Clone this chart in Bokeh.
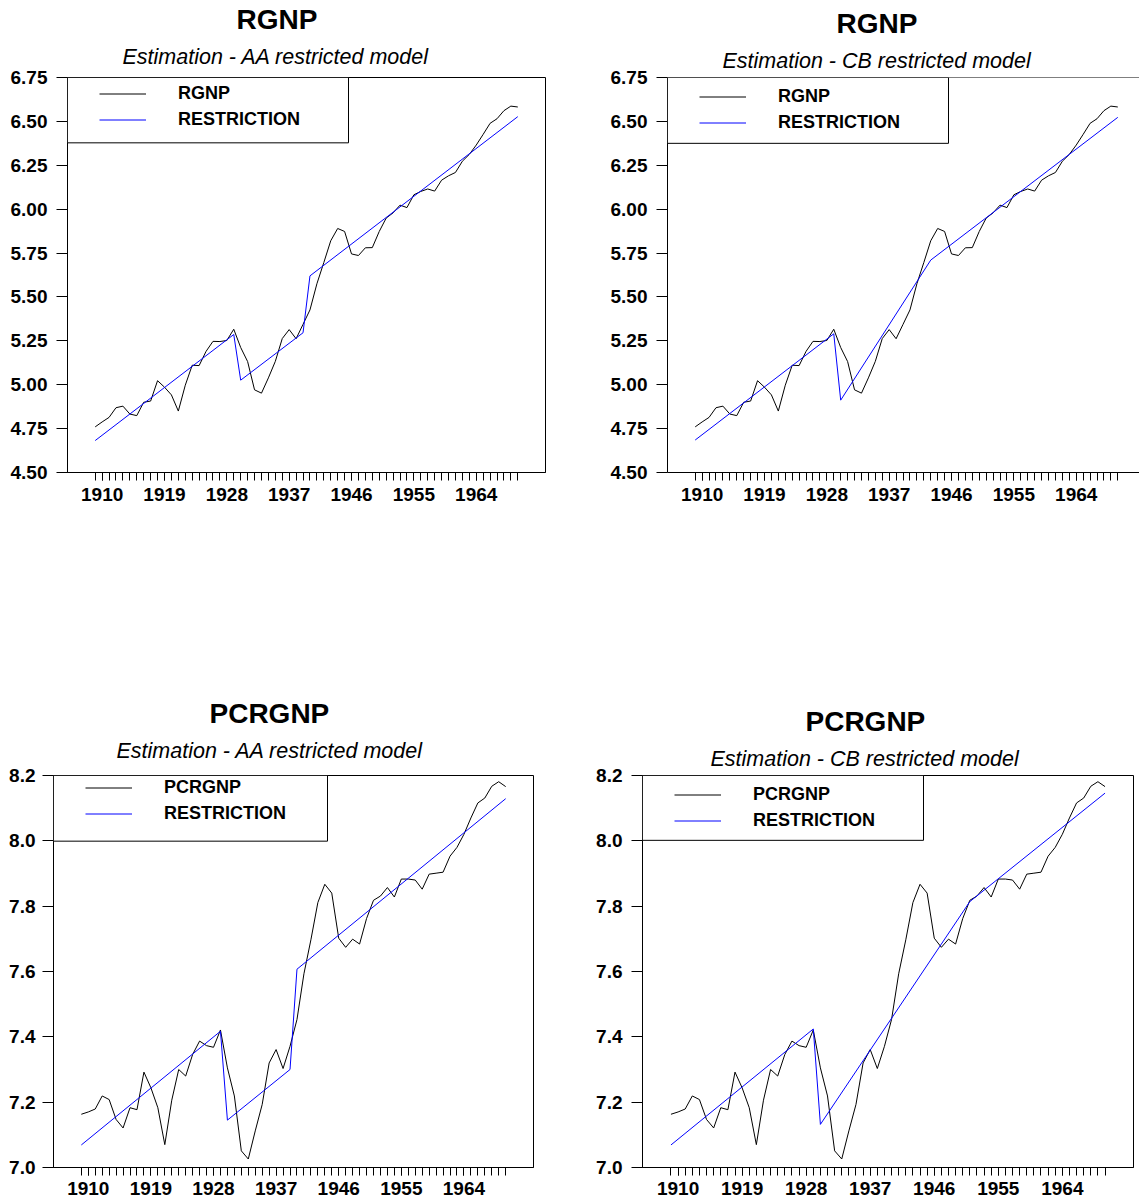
from bokeh.plotting import figure
from bokeh.models import (FixedTicker, PrintfTickFormatter, Legend, LegendItem,
                          BoxAnnotation, Title, Span)
from bokeh.layouts import column, row
from bokeh.embed import file_html
from bokeh.resources import INLINE

# ---------------- data ----------------
YEARS = list(range(1909, 1971))
X_LABEL_TICKS = [1910, 1919, 1928, 1937, 1946, 1955, 1964]

RGNP = [4.760, 4.788, 4.814, 4.869, 4.878, 4.833, 4.824, 4.900, 4.907, 5.023,
        4.986, 4.942, 4.850, 4.997, 5.111, 5.109, 5.190, 5.247, 5.246, 5.252,
        5.316, 5.212, 5.132, 4.971, 4.952, 5.039, 5.133, 5.263, 5.314, 5.262,
        5.344, 5.426, 5.575, 5.696, 5.820, 5.890, 5.873, 5.745, 5.736, 5.780,
        5.781, 5.873, 5.949, 5.979, 6.023, 6.009, 6.082, 6.101, 6.115, 6.103,
        6.165, 6.190, 6.209, 6.273, 6.312, 6.365, 6.426, 6.489, 6.515, 6.561,
        6.587, 6.582]

PCRGNP = [7.163, 7.170, 7.179, 7.219, 7.208, 7.147, 7.121, 7.183, 7.177, 7.292,
          7.244, 7.183, 7.070, 7.206, 7.300, 7.280, 7.346, 7.387, 7.373, 7.368,
          7.421, 7.305, 7.219, 7.051, 7.026, 7.112, 7.193, 7.320, 7.361, 7.303,
          7.371, 7.453, 7.593, 7.697, 7.811, 7.867, 7.840, 7.702, 7.674, 7.699,
          7.684, 7.762, 7.818, 7.831, 7.857, 7.828, 7.883, 7.883, 7.880, 7.852,
          7.898, 7.901, 7.904, 7.953, 7.980, 8.020, 8.070, 8.116, 8.131, 8.167,
          8.181, 8.166]

# restriction (trend) lines: vertices
RGNP_AA_YEARS = [1909, 1929, 1930, 1939, 1940, 1970]
RGNP_AA_VALUES = [4.682, 5.286, 5.026, 5.296, 5.620, 6.527]
RGNP_CB_YEARS = [1909, 1929, 1930, 1943, 1970]
RGNP_CB_VALUES = [4.685, 5.290, 4.912, 5.710, 6.523]
PCRGNP_AA_YEARS = [1909, 1929, 1930, 1939, 1940, 1970]
PCRGNP_AA_VALUES = [7.069, 7.417, 7.145, 7.300, 7.607, 8.129]
PCRGNP_CB_YEARS = [1909, 1929, 1930, 1951, 1970]
PCRGNP_CB_VALUES = [7.069, 7.424, 7.132, 7.814, 8.146]

RGNP_TICKS = [4.50, 4.75, 5.00, 5.25, 5.50, 5.75, 6.00, 6.25, 6.50, 6.75]
PCRGNP_TICKS = [7.0, 7.2, 7.4, 7.6, 7.8, 8.0, 8.2]

# ---------------- style ----------------
FONT = "Liberation Sans"
X_START = 1905
X_END = 1974
PX_PER_YEAR_TOP = 478 / (X_END - X_START)


def panel(fig_x, fig_y, fig_w, fig_h, frame, x_end, y_range, y_ticks, y_fmt,
          series, sname, rx, ry, title, subtitle, title_off, sub_off, box_w, box_h,
          ytick_standoff, xlab_standoff, title_shift, right_outline=True):
    fl, ft, fr, fb = frame
    fw, fh = fr - fl, fb - ft
    p = figure(width=fig_w, height=fig_h, x_range=(X_START, x_end), y_range=y_range,
               output_backend="svg", toolbar_location=None, tools="",
               title=title,
               min_border_left=fl - fig_x, min_border_top=ft - fig_y,
               min_border_right=fig_x + fig_w - fr,
               min_border_bottom=fig_y + fig_h - fb)
    p.background_fill_color = "white"
    p.border_fill_color = "white"
    p.xgrid.grid_line_color = None
    p.ygrid.grid_line_color = None

    # main title (outer)
    p.title.text_font = FONT
    p.title.text_font_size = "28px"
    p.title.text_font_style = "bold"
    p.title.text_color = "black"
    p.title.align = "left"
    p.title.offset = title_off
    p.title.standoff = -3 + 2 * title_shift
    # subtitle (closest to the frame)
    p.add_layout(Title(text=subtitle, text_font=FONT, text_font_size="21.5px",
                       text_font_style="italic", text_color="black",
                       align="left", offset=sub_off, standoff=18 - 2 * title_shift),
                 "above")

    if right_outline:
        p.outline_line_color = "black"
        p.outline_line_width = 1
        p.outline_line_alpha = 1
    else:
        p.outline_line_color = None
        p.add_layout(Span(location=y_range[1], dimension="width",
                          line_color="black", line_width=1))

    r1 = p.line(YEARS, series, line_color="black", line_width=1)
    r2 = p.line(rx, ry, line_color="#0000ff", line_width=1)

    xa = p.xaxis[0]
    xa.ticker = FixedTicker(ticks=X_LABEL_TICKS, minor_ticks=YEARS)
    xa.major_tick_out = 8
    xa.major_tick_in = 0
    xa.minor_tick_out = 8
    xa.minor_tick_in = 0
    xa.major_tick_line_color = "black"
    xa.minor_tick_line_color = "black"
    xa.axis_line_color = "black"
    xa.major_label_standoff = xlab_standoff
    xa.major_label_text_font = FONT
    xa.major_label_text_font_size = "19px"
    xa.major_label_text_font_style = "bold"
    xa.major_label_text_color = "black"

    ya = p.yaxis[0]
    ya.ticker = FixedTicker(ticks=y_ticks)
    ya.formatter = PrintfTickFormatter(format=y_fmt)
    ya.major_tick_out = 11
    ya.major_tick_in = 0
    ya.minor_tick_line_color = None
    ya.major_tick_line_color = "black"
    ya.axis_line_color = "black"
    ya.major_label_standoff = ytick_standoff
    ya.major_label_text_font = FONT
    ya.major_label_text_font_size = "19px"
    ya.major_label_text_font_style = "bold"
    ya.major_label_text_color = "black"

    xs = (x_end - X_START) / fw
    ys = (y_range[1] - y_range[0]) / fh

    box = BoxAnnotation(left=X_START, right=X_START + box_w * xs,
                        top=y_range[1], bottom=y_range[1] - box_h * ys,
                        fill_color="white", fill_alpha=1.0,
                        line_color="black", line_width=1, line_alpha=1.0)
    p.add_layout(box)

    leg = Legend(items=[LegendItem(label=sname, renderers=[r1]),
                        LegendItem(label="RESTRICTION", renderers=[r2])],
                 location=(32, fh - 56.5))
    leg.margin = 0
    leg.padding = 0
    leg.spacing = 5
    leg.glyph_width = 47
    leg.glyph_height = 21
    leg.label_height = 21
    leg.label_standoff = 32
    leg.border_line_color = None
    leg.background_fill_alpha = 0
    leg.label_text_font = FONT
    leg.label_text_font_size = "18px"
    leg.label_text_font_style = "bold"
    leg.label_text_color = "black"
    p.add_layout(leg)
    return p


p1 = panel(0, 0, 570, 690, (67, 73, 545, 472), X_END, (4.5, 6.75), RGNP_TICKS, "%.2f",
           RGNP, "RGNP", RGNP_AA_YEARS, RGNP_AA_VALUES,
           "RGNP", "Estimation - AA restricted model", 169, 55, 281, 66, 9, 7, 0)

p2 = panel(570, 0, 569, 690, (667, 77, 1139, 473),
           X_START + 472 / PX_PER_YEAR_TOP, (4.5, 6.75), RGNP_TICKS, "%.2f",
           RGNP, "RGNP", RGNP_CB_YEARS, RGNP_CB_VALUES,
           "RGNP", "Estimation - CB restricted model", 169, 55, 281, 66, 9, 7, 4,
           right_outline=False)

p3 = panel(0, 690, 568, 514, (53, 767, 533, 1167), X_END, (7.0, 8.2), PCRGNP_TICKS, "%.1f",
           PCRGNP, "PCRGNP", PCRGNP_AA_YEARS, PCRGNP_AA_VALUES,
           "PCRGNP", "Estimation - AA restricted model", 156, 63, 274, 67, 7, 6, -4)

p4 = panel(568, 690, 571, 514, (642, 775, 1133, 1168), X_END, (7.0, 8.2), PCRGNP_TICKS, "%.1f",
           PCRGNP, "PCRGNP", PCRGNP_CB_YEARS, PCRGNP_CB_VALUES,
           "PCRGNP", "Estimation - CB restricted model", 163, 68, 281, 65, 9, 6, 4)

layout = column(row(p1, p2), row(p3, p4))
open("out.html", "w").write(file_html(layout, INLINE))
